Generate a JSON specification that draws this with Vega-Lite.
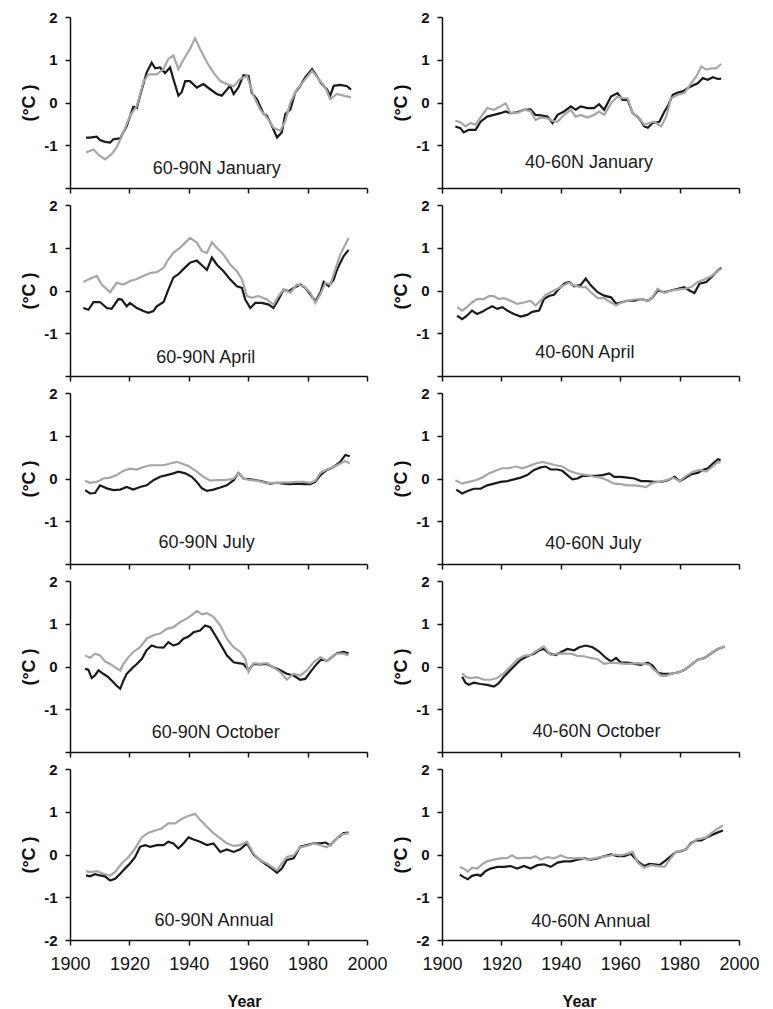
{
"$schema": "https://vega.github.io/schema/vega-lite/v6.json",
"background": "white",
"padding": {"left": 20, "top": 10, "right": 5, "bottom": 5},
"columns": 2,
"spacing": {"row": 17, "column": 75},
"bounds": "flush",
"config": {
  "view": {"stroke": null},
  "font": "Liberation Sans",
  "axis": {"grid": false, "domainColor": "#111", "domainWidth": 1.5, "tickColor": "#111", "tickWidth": 1.5, "tickSize": 5, "labelColor": "#111", "titleColor": "#111", "labelFont": "Liberation Sans", "titleFont": "Liberation Sans", "labelFlush": false, "labelOverlap": false},
  "axisX": {"labelFontSize": 18, "labelPadding": 10, "titleFontSize": 16, "titleFontWeight": "bold", "titlePadding": 20},
  "axisY": {"labelFontSize": 15, "labelFontWeight": "bold", "labelPadding": 8, "titleFontSize": 18, "titleFontWeight": "bold", "titlePadding": 5},
  "text": {"font": "Liberation Sans"},
  "line": {"strokeWidth": 2.2}
},
"datasets": {
"L1k": [{"year":1905.4,"anomaly":-0.82},{"year":1906.7,"anomaly":-0.82},{"year":1909.0,"anomaly":-0.80},{"year":1910.1,"anomaly":-0.88},{"year":1911.8,"anomaly":-0.92},{"year":1913.5,"anomaly":-0.94},{"year":1914.6,"anomaly":-0.86},{"year":1916.9,"anomaly":-0.84},{"year":1919.1,"anomaly":-0.55},{"year":1921.3,"anomaly":-0.10},{"year":1922.5,"anomaly":-0.12},{"year":1923.6,"anomaly":0.16},{"year":1925.8,"anomaly":0.70},{"year":1927.5,"anomaly":0.93},{"year":1928.7,"anomaly":0.80},{"year":1930.3,"anomaly":0.82},{"year":1932.0,"anomaly":0.69},{"year":1933.7,"anomaly":0.82},{"year":1934.8,"anomaly":0.55},{"year":1936.5,"anomaly":0.16},{"year":1937.6,"anomaly":0.24},{"year":1938.8,"anomaly":0.50},{"year":1940.4,"anomaly":0.50},{"year":1942.7,"anomaly":0.35},{"year":1944.9,"anomaly":0.43},{"year":1947.2,"anomaly":0.31},{"year":1949.4,"anomaly":0.20},{"year":1951.1,"anomaly":0.16},{"year":1953.9,"anomaly":0.39},{"year":1955.1,"anomaly":0.20},{"year":1956.7,"anomaly":0.35},{"year":1958.4,"anomaly":0.64},{"year":1960.1,"anomaly":0.62},{"year":1961.2,"anomaly":0.23},{"year":1962.9,"anomaly":0.08},{"year":1965.2,"anomaly":-0.27},{"year":1966.3,"anomaly":-0.31},{"year":1968.0,"anomaly":-0.55},{"year":1969.7,"anomaly":-0.82},{"year":1971.3,"anomaly":-0.70},{"year":1972.5,"anomaly":-0.27},{"year":1974.2,"anomaly":-0.16},{"year":1975.8,"anomaly":0.23},{"year":1977.5,"anomaly":0.39},{"year":1979.2,"anomaly":0.59},{"year":1981.5,"anomaly":0.78},{"year":1983.1,"anomaly":0.62},{"year":1984.8,"anomaly":0.43},{"year":1986.5,"anomaly":0.31},{"year":1987.6,"anomaly":0.16},{"year":1988.8,"anomaly":0.39},{"year":1991.0,"anomaly":0.41},{"year":1993.3,"anomaly":0.38},{"year":1994.6,"anomaly":0.30}],
"L1g": [{"year":1905.4,"anomaly":-1.17},{"year":1907.9,"anomaly":-1.10},{"year":1910.1,"anomaly":-1.25},{"year":1911.8,"anomaly":-1.33},{"year":1914.0,"anomaly":-1.21},{"year":1915.7,"anomaly":-1.05},{"year":1918.0,"anomaly":-0.70},{"year":1920.2,"anomaly":-0.31},{"year":1922.5,"anomaly":-0.08},{"year":1924.7,"anomaly":0.47},{"year":1926.4,"anomaly":0.66},{"year":1929.2,"anomaly":0.66},{"year":1931.5,"anomaly":0.78},{"year":1933.1,"anomaly":1.02},{"year":1934.8,"anomaly":1.10},{"year":1936.5,"anomaly":0.78},{"year":1938.2,"anomaly":1.00},{"year":1940.4,"anomaly":1.25},{"year":1942.1,"anomaly":1.50},{"year":1943.8,"anomaly":1.25},{"year":1946.1,"anomaly":0.94},{"year":1948.3,"anomaly":0.70},{"year":1950.6,"anomaly":0.50},{"year":1952.8,"anomaly":0.43},{"year":1955.1,"anomaly":0.38},{"year":1957.3,"anomaly":0.55},{"year":1959.6,"anomaly":0.62},{"year":1961.8,"anomaly":0.16},{"year":1964.0,"anomaly":-0.16},{"year":1966.3,"anomaly":-0.35},{"year":1968.5,"anomaly":-0.59},{"year":1970.8,"anomaly":-0.66},{"year":1972.5,"anomaly":-0.43},{"year":1974.2,"anomaly":0.00},{"year":1976.4,"anomaly":0.31},{"year":1978.7,"anomaly":0.50},{"year":1981.5,"anomaly":0.74},{"year":1983.7,"anomaly":0.55},{"year":1986.0,"anomaly":0.35},{"year":1987.6,"anomaly":0.08},{"year":1989.9,"anomaly":0.20},{"year":1992.1,"anomaly":0.16},{"year":1994.6,"anomaly":0.12}],
"L2k": [{"year":1904.5,"anomaly":-0.41},{"year":1906.2,"anomaly":-0.45},{"year":1907.9,"anomaly":-0.27},{"year":1910.1,"anomaly":-0.27},{"year":1912.4,"anomaly":-0.41},{"year":1914.0,"anomaly":-0.43},{"year":1916.3,"anomaly":-0.20},{"year":1917.4,"anomaly":-0.21},{"year":1919.1,"anomaly":-0.37},{"year":1920.2,"anomaly":-0.29},{"year":1922.5,"anomaly":-0.41},{"year":1924.7,"anomaly":-0.48},{"year":1926.4,"anomaly":-0.52},{"year":1928.1,"anomaly":-0.48},{"year":1929.2,"anomaly":-0.37},{"year":1931.5,"anomaly":-0.27},{"year":1933.1,"anomaly":0.02},{"year":1934.8,"anomaly":0.30},{"year":1936.5,"anomaly":0.38},{"year":1938.2,"anomaly":0.50},{"year":1940.4,"anomaly":0.65},{"year":1942.7,"anomaly":0.70},{"year":1944.4,"anomaly":0.59},{"year":1946.1,"anomaly":0.48},{"year":1947.8,"anomaly":0.77},{"year":1949.4,"anomaly":0.61},{"year":1951.7,"anomaly":0.45},{"year":1953.9,"anomaly":0.26},{"year":1956.2,"anomaly":0.10},{"year":1957.9,"anomaly":0.06},{"year":1959.0,"anomaly":-0.21},{"year":1960.7,"anomaly":-0.41},{"year":1962.4,"anomaly":-0.29},{"year":1964.6,"anomaly":-0.29},{"year":1966.9,"anomaly":-0.33},{"year":1968.5,"anomaly":-0.41},{"year":1970.2,"anomaly":-0.21},{"year":1971.9,"anomaly":0.02},{"year":1973.6,"anomaly":-0.02},{"year":1975.3,"anomaly":0.06},{"year":1977.5,"anomaly":0.14},{"year":1979.2,"anomaly":0.06},{"year":1980.9,"anomaly":-0.09},{"year":1982.6,"anomaly":-0.25},{"year":1984.3,"anomaly":-0.05},{"year":1985.4,"anomaly":0.20},{"year":1987.1,"anomaly":0.10},{"year":1988.8,"anomaly":0.26},{"year":1989.9,"anomaly":0.49},{"year":1992.1,"anomaly":0.80},{"year":1993.8,"anomaly":0.95}],
"L2g": [{"year":1904.5,"anomaly":0.20},{"year":1906.2,"anomaly":0.26},{"year":1909.0,"anomaly":0.34},{"year":1910.7,"anomaly":0.14},{"year":1913.5,"anomaly":-0.04},{"year":1915.7,"anomaly":0.18},{"year":1918.0,"anomaly":0.14},{"year":1920.2,"anomaly":0.22},{"year":1922.5,"anomaly":0.27},{"year":1924.7,"anomaly":0.34},{"year":1927.0,"anomaly":0.41},{"year":1929.2,"anomaly":0.43},{"year":1931.5,"anomaly":0.53},{"year":1933.1,"anomaly":0.73},{"year":1934.8,"anomaly":0.88},{"year":1937.1,"anomaly":1.00},{"year":1938.8,"anomaly":1.12},{"year":1940.4,"anomaly":1.23},{"year":1942.7,"anomaly":1.12},{"year":1944.4,"anomaly":0.92},{"year":1946.1,"anomaly":0.88},{"year":1947.8,"anomaly":1.13},{"year":1949.4,"anomaly":1.00},{"year":1951.7,"anomaly":0.84},{"year":1953.9,"anomaly":0.61},{"year":1956.2,"anomaly":0.45},{"year":1957.9,"anomaly":0.26},{"year":1959.6,"anomaly":-0.13},{"year":1961.2,"anomaly":-0.17},{"year":1963.5,"anomaly":-0.13},{"year":1966.3,"anomaly":-0.21},{"year":1968.5,"anomaly":-0.33},{"year":1970.2,"anomaly":-0.13},{"year":1971.9,"anomaly":0.02},{"year":1974.2,"anomaly":-0.05},{"year":1976.4,"anomaly":0.14},{"year":1978.7,"anomaly":0.10},{"year":1980.9,"anomaly":-0.05},{"year":1982.6,"anomaly":-0.29},{"year":1984.3,"anomaly":-0.09},{"year":1986.0,"anomaly":0.18},{"year":1987.6,"anomaly":0.14},{"year":1989.3,"anomaly":0.49},{"year":1991.0,"anomaly":0.84},{"year":1993.8,"anomaly":1.23}],
"L3k": [{"year":1905.1,"anomaly":-0.27},{"year":1906.7,"anomaly":-0.35},{"year":1908.4,"anomaly":-0.34},{"year":1910.1,"anomaly":-0.16},{"year":1912.4,"anomaly":-0.23},{"year":1914.6,"anomaly":-0.27},{"year":1916.9,"anomaly":-0.26},{"year":1919.1,"anomaly":-0.20},{"year":1921.3,"anomaly":-0.26},{"year":1923.6,"anomaly":-0.20},{"year":1925.8,"anomaly":-0.16},{"year":1928.1,"anomaly":-0.04},{"year":1930.3,"anomaly":0.04},{"year":1932.6,"anomaly":0.08},{"year":1934.8,"anomaly":0.12},{"year":1936.5,"anomaly":0.16},{"year":1938.8,"anomaly":0.12},{"year":1941.0,"anomaly":0.04},{"year":1942.7,"anomaly":-0.08},{"year":1944.4,"anomaly":-0.23},{"year":1946.1,"anomaly":-0.29},{"year":1948.3,"anomaly":-0.26},{"year":1950.6,"anomaly":-0.21},{"year":1952.8,"anomaly":-0.16},{"year":1955.1,"anomaly":-0.04},{"year":1956.7,"anomaly":0.13},{"year":1958.4,"anomaly":0.00},{"year":1960.7,"anomaly":-0.02},{"year":1962.9,"anomaly":-0.04},{"year":1965.2,"anomaly":-0.08},{"year":1967.4,"anomaly":-0.12},{"year":1969.7,"anomaly":-0.10},{"year":1971.9,"anomaly":-0.12},{"year":1974.2,"anomaly":-0.13},{"year":1976.4,"anomaly":-0.12},{"year":1978.7,"anomaly":-0.13},{"year":1980.9,"anomaly":-0.13},{"year":1982.6,"anomaly":-0.08},{"year":1984.3,"anomaly":0.08},{"year":1986.5,"anomaly":0.20},{"year":1988.8,"anomaly":0.27},{"year":1991.0,"anomaly":0.39},{"year":1992.7,"anomaly":0.55},{"year":1994.2,"anomaly":0.52}],
"L3g": [{"year":1905.1,"anomaly":-0.05},{"year":1906.7,"anomaly":-0.10},{"year":1909.0,"anomaly":-0.08},{"year":1911.2,"anomaly":0.00},{"year":1913.5,"anomaly":0.02},{"year":1915.7,"anomaly":0.08},{"year":1918.0,"anomaly":0.18},{"year":1920.2,"anomaly":0.23},{"year":1922.5,"anomaly":0.21},{"year":1924.7,"anomaly":0.27},{"year":1927.0,"anomaly":0.31},{"year":1929.2,"anomaly":0.31},{"year":1931.5,"anomaly":0.31},{"year":1933.7,"anomaly":0.35},{"year":1936.0,"anomaly":0.39},{"year":1937.6,"anomaly":0.35},{"year":1939.9,"anomaly":0.29},{"year":1942.7,"anomaly":0.16},{"year":1944.9,"anomaly":0.04},{"year":1947.2,"anomaly":-0.05},{"year":1949.4,"anomaly":-0.04},{"year":1951.7,"anomaly":-0.04},{"year":1953.9,"anomaly":-0.02},{"year":1955.1,"anomaly":0.00},{"year":1956.7,"anomaly":0.12},{"year":1958.4,"anomaly":0.00},{"year":1960.7,"anomaly":-0.04},{"year":1962.9,"anomaly":-0.05},{"year":1965.2,"anomaly":-0.09},{"year":1967.4,"anomaly":-0.10},{"year":1969.7,"anomaly":-0.10},{"year":1971.9,"anomaly":-0.09},{"year":1974.2,"anomaly":-0.09},{"year":1976.4,"anomaly":-0.08},{"year":1978.7,"anomaly":-0.08},{"year":1980.9,"anomaly":-0.10},{"year":1982.6,"anomaly":-0.05},{"year":1984.3,"anomaly":0.13},{"year":1986.5,"anomaly":0.21},{"year":1988.8,"anomaly":0.27},{"year":1991.0,"anomaly":0.35},{"year":1992.7,"anomaly":0.41},{"year":1994.2,"anomaly":0.35}],
"L4k": [{"year":1905.1,"anomaly":-0.05},{"year":1906.2,"anomaly":-0.08},{"year":1907.3,"anomaly":-0.27},{"year":1908.4,"anomaly":-0.21},{"year":1909.6,"anomaly":-0.09},{"year":1911.2,"anomaly":-0.17},{"year":1912.9,"anomaly":-0.25},{"year":1914.6,"anomaly":-0.37},{"year":1915.7,"anomaly":-0.45},{"year":1916.9,"anomaly":-0.52},{"year":1918.0,"anomaly":-0.33},{"year":1919.1,"anomaly":-0.17},{"year":1920.8,"anomaly":-0.05},{"year":1922.5,"anomaly":0.06},{"year":1924.2,"anomaly":0.18},{"year":1925.8,"anomaly":0.38},{"year":1927.5,"anomaly":0.49},{"year":1929.2,"anomaly":0.45},{"year":1931.5,"anomaly":0.44},{"year":1933.1,"anomaly":0.57},{"year":1934.8,"anomaly":0.49},{"year":1936.5,"anomaly":0.53},{"year":1938.2,"anomaly":0.65},{"year":1939.9,"anomaly":0.70},{"year":1941.6,"anomaly":0.80},{"year":1943.8,"anomaly":0.84},{"year":1945.5,"anomaly":0.96},{"year":1947.2,"anomaly":0.92},{"year":1948.9,"anomaly":0.73},{"year":1950.6,"anomaly":0.53},{"year":1952.8,"anomaly":0.26},{"year":1955.1,"anomaly":0.10},{"year":1956.7,"anomaly":0.08},{"year":1958.4,"anomaly":0.06},{"year":1960.1,"anomaly":-0.09},{"year":1961.8,"anomaly":0.06},{"year":1964.0,"anomaly":0.05},{"year":1966.3,"anomaly":0.06},{"year":1968.5,"anomaly":-0.02},{"year":1970.8,"anomaly":-0.09},{"year":1973.0,"anomaly":-0.17},{"year":1975.3,"anomaly":-0.21},{"year":1977.5,"anomaly":-0.31},{"year":1979.2,"anomaly":-0.29},{"year":1980.9,"anomaly":-0.13},{"year":1983.1,"anomaly":0.06},{"year":1984.8,"anomaly":0.18},{"year":1986.5,"anomaly":0.13},{"year":1988.2,"anomaly":0.22},{"year":1989.9,"anomaly":0.31},{"year":1992.1,"anomaly":0.34},{"year":1993.8,"anomaly":0.31}],
"L4g": [{"year":1905.1,"anomaly":0.26},{"year":1906.7,"anomaly":0.20},{"year":1908.4,"anomaly":0.30},{"year":1910.1,"anomaly":0.26},{"year":1911.8,"anomaly":0.12},{"year":1913.5,"anomaly":0.06},{"year":1915.2,"anomaly":-0.02},{"year":1916.9,"anomaly":-0.09},{"year":1918.0,"anomaly":0.06},{"year":1919.7,"anomaly":0.22},{"year":1921.3,"anomaly":0.34},{"year":1923.6,"anomaly":0.45},{"year":1925.8,"anomaly":0.65},{"year":1928.1,"anomaly":0.73},{"year":1930.3,"anomaly":0.77},{"year":1932.6,"anomaly":0.88},{"year":1934.8,"anomaly":0.92},{"year":1937.1,"anomaly":1.04},{"year":1939.3,"anomaly":1.12},{"year":1941.0,"anomaly":1.20},{"year":1942.7,"anomaly":1.30},{"year":1944.4,"anomaly":1.22},{"year":1946.1,"anomaly":1.25},{"year":1948.3,"anomaly":1.16},{"year":1950.6,"anomaly":0.96},{"year":1952.8,"anomaly":0.65},{"year":1955.1,"anomaly":0.45},{"year":1957.3,"anomaly":0.34},{"year":1959.0,"anomaly":0.18},{"year":1960.1,"anomaly":-0.13},{"year":1961.8,"anomaly":0.08},{"year":1964.0,"anomaly":0.06},{"year":1966.3,"anomaly":0.08},{"year":1968.5,"anomaly":-0.02},{"year":1970.8,"anomaly":-0.13},{"year":1973.0,"anomaly":-0.31},{"year":1975.3,"anomaly":-0.17},{"year":1977.5,"anomaly":-0.21},{"year":1979.8,"anomaly":-0.09},{"year":1982.0,"anomaly":0.10},{"year":1984.3,"anomaly":0.22},{"year":1986.5,"anomaly":0.13},{"year":1988.2,"anomaly":0.22},{"year":1989.9,"anomaly":0.30},{"year":1992.1,"anomaly":0.30},{"year":1993.8,"anomaly":0.26}],
"L5k": [{"year":1905.4,"anomaly":-0.49},{"year":1906.7,"anomaly":-0.51},{"year":1908.4,"anomaly":-0.46},{"year":1910.1,"anomaly":-0.49},{"year":1911.8,"anomaly":-0.51},{"year":1913.5,"anomaly":-0.61},{"year":1915.2,"anomaly":-0.57},{"year":1916.9,"anomaly":-0.45},{"year":1918.5,"anomaly":-0.33},{"year":1920.2,"anomaly":-0.21},{"year":1921.9,"anomaly":-0.06},{"year":1923.6,"anomaly":0.18},{"year":1925.3,"anomaly":0.22},{"year":1927.0,"anomaly":0.18},{"year":1929.2,"anomaly":0.22},{"year":1931.5,"anomaly":0.22},{"year":1933.1,"anomaly":0.30},{"year":1934.8,"anomaly":0.26},{"year":1936.5,"anomaly":0.14},{"year":1938.2,"anomaly":0.26},{"year":1939.9,"anomaly":0.40},{"year":1941.6,"anomaly":0.35},{"year":1943.8,"anomaly":0.30},{"year":1946.1,"anomaly":0.22},{"year":1948.3,"anomaly":0.26},{"year":1950.6,"anomaly":0.06},{"year":1952.8,"anomaly":0.12},{"year":1955.1,"anomaly":0.06},{"year":1957.3,"anomaly":0.12},{"year":1959.6,"anomaly":0.26},{"year":1961.8,"anomaly":0.00},{"year":1964.0,"anomaly":-0.13},{"year":1966.3,"anomaly":-0.25},{"year":1968.0,"anomaly":-0.33},{"year":1969.7,"anomaly":-0.43},{"year":1971.3,"anomaly":-0.33},{"year":1973.0,"anomaly":-0.13},{"year":1975.3,"anomaly":-0.09},{"year":1977.5,"anomaly":0.18},{"year":1979.8,"anomaly":0.22},{"year":1982.0,"anomaly":0.26},{"year":1984.3,"anomaly":0.26},{"year":1986.0,"anomaly":0.28},{"year":1987.6,"anomaly":0.22},{"year":1989.9,"anomaly":0.38},{"year":1992.1,"anomaly":0.50},{"year":1993.8,"anomaly":0.51}],
"L5g": [{"year":1905.4,"anomaly":-0.39},{"year":1906.7,"anomaly":-0.41},{"year":1909.0,"anomaly":-0.39},{"year":1911.2,"anomaly":-0.45},{"year":1913.5,"anomaly":-0.49},{"year":1915.2,"anomaly":-0.41},{"year":1917.4,"anomaly":-0.21},{"year":1919.7,"anomaly":-0.06},{"year":1921.9,"anomaly":0.14},{"year":1924.2,"anomaly":0.40},{"year":1926.4,"anomaly":0.51},{"year":1928.7,"anomaly":0.56},{"year":1930.9,"anomaly":0.61},{"year":1933.1,"anomaly":0.73},{"year":1935.4,"anomaly":0.73},{"year":1937.1,"anomaly":0.81},{"year":1939.3,"anomaly":0.89},{"year":1942.1,"anomaly":0.95},{"year":1943.8,"anomaly":0.81},{"year":1946.1,"anomaly":0.65},{"year":1948.3,"anomaly":0.50},{"year":1950.6,"anomaly":0.38},{"year":1952.8,"anomaly":0.26},{"year":1955.1,"anomaly":0.20},{"year":1957.3,"anomaly":0.22},{"year":1959.6,"anomaly":0.30},{"year":1961.8,"anomaly":0.02},{"year":1964.0,"anomaly":-0.13},{"year":1966.3,"anomaly":-0.21},{"year":1968.0,"anomaly":-0.29},{"year":1969.7,"anomaly":-0.37},{"year":1971.3,"anomaly":-0.21},{"year":1973.0,"anomaly":-0.06},{"year":1975.3,"anomaly":-0.02},{"year":1977.5,"anomaly":0.17},{"year":1979.8,"anomaly":0.20},{"year":1982.0,"anomaly":0.26},{"year":1984.3,"anomaly":0.22},{"year":1986.5,"anomaly":0.17},{"year":1988.8,"anomaly":0.30},{"year":1991.0,"anomaly":0.46},{"year":1993.8,"anomaly":0.50}],
"R1k": [{"year":1904.5,"anomaly":-0.56},{"year":1906.2,"anomaly":-0.60},{"year":1907.3,"anomaly":-0.70},{"year":1909.0,"anomaly":-0.64},{"year":1911.3,"anomaly":-0.64},{"year":1913.0,"anomaly":-0.45},{"year":1915.2,"anomaly":-0.33},{"year":1917.5,"anomaly":-0.29},{"year":1919.7,"anomaly":-0.25},{"year":1921.4,"anomaly":-0.21},{"year":1923.1,"anomaly":-0.25},{"year":1925.3,"anomaly":-0.23},{"year":1927.6,"anomaly":-0.17},{"year":1929.8,"anomaly":-0.16},{"year":1931.5,"anomaly":-0.29},{"year":1933.2,"anomaly":-0.30},{"year":1935.5,"anomaly":-0.33},{"year":1937.2,"anomaly":-0.48},{"year":1938.9,"anomaly":-0.29},{"year":1941.1,"anomaly":-0.21},{"year":1943.4,"anomaly":-0.09},{"year":1945.0,"anomaly":-0.17},{"year":1946.7,"anomaly":-0.09},{"year":1949.0,"anomaly":-0.13},{"year":1951.2,"anomaly":-0.13},{"year":1952.9,"anomaly":-0.04},{"year":1954.6,"anomaly":-0.17},{"year":1956.9,"anomaly":0.14},{"year":1959.1,"anomaly":0.22},{"year":1960.8,"anomaly":0.06},{"year":1962.5,"anomaly":0.06},{"year":1964.2,"anomaly":-0.25},{"year":1966.4,"anomaly":-0.37},{"year":1968.1,"anomaly":-0.56},{"year":1969.3,"anomaly":-0.59},{"year":1970.9,"anomaly":-0.48},{"year":1973.2,"anomaly":-0.45},{"year":1974.9,"anomaly":-0.21},{"year":1976.0,"anomaly":-0.09},{"year":1977.7,"anomaly":0.18},{"year":1979.4,"anomaly":0.23},{"year":1981.1,"anomaly":0.26},{"year":1982.8,"anomaly":0.34},{"year":1984.5,"anomaly":0.40},{"year":1986.1,"anomaly":0.45},{"year":1987.8,"anomaly":0.57},{"year":1989.5,"anomaly":0.53},{"year":1991.2,"anomaly":0.59},{"year":1992.9,"anomaly":0.55},{"year":1994.0,"anomaly":0.56}],
"R1g": [{"year":1904.5,"anomaly":-0.43},{"year":1906.2,"anomaly":-0.46},{"year":1907.9,"anomaly":-0.56},{"year":1909.6,"anomaly":-0.48},{"year":1911.3,"anomaly":-0.52},{"year":1913.0,"anomaly":-0.35},{"year":1915.2,"anomaly":-0.13},{"year":1917.5,"anomaly":-0.17},{"year":1919.7,"anomaly":-0.09},{"year":1921.4,"anomaly":-0.02},{"year":1923.1,"anomaly":-0.25},{"year":1925.3,"anomaly":-0.25},{"year":1927.6,"anomaly":-0.17},{"year":1929.8,"anomaly":-0.20},{"year":1931.5,"anomaly":-0.41},{"year":1933.2,"anomaly":-0.35},{"year":1935.5,"anomaly":-0.37},{"year":1937.2,"anomaly":-0.43},{"year":1938.9,"anomaly":-0.45},{"year":1941.1,"anomaly":-0.29},{"year":1943.4,"anomaly":-0.17},{"year":1945.0,"anomaly":-0.33},{"year":1946.7,"anomaly":-0.29},{"year":1949.0,"anomaly":-0.35},{"year":1951.2,"anomaly":-0.29},{"year":1952.9,"anomaly":-0.21},{"year":1954.6,"anomaly":-0.29},{"year":1956.9,"anomaly":-0.02},{"year":1959.1,"anomaly":0.14},{"year":1960.8,"anomaly":0.10},{"year":1962.5,"anomaly":0.10},{"year":1964.2,"anomaly":-0.25},{"year":1966.4,"anomaly":-0.37},{"year":1968.1,"anomaly":-0.52},{"year":1969.8,"anomaly":-0.48},{"year":1971.5,"anomaly":-0.45},{"year":1973.8,"anomaly":-0.56},{"year":1975.5,"anomaly":-0.33},{"year":1977.1,"anomaly":0.10},{"year":1979.4,"anomaly":0.18},{"year":1981.6,"anomaly":0.22},{"year":1983.9,"anomaly":0.45},{"year":1985.6,"anomaly":0.61},{"year":1987.3,"anomaly":0.84},{"year":1989.0,"anomaly":0.77},{"year":1990.7,"anomaly":0.80},{"year":1992.3,"anomaly":0.80},{"year":1994.0,"anomaly":0.90}],
"R2k": [{"year":1905.1,"anomaly":-0.59},{"year":1906.8,"anomaly":-0.67},{"year":1908.4,"anomaly":-0.59},{"year":1910.1,"anomaly":-0.47},{"year":1911.8,"anomaly":-0.55},{"year":1913.5,"anomaly":-0.50},{"year":1915.2,"anomaly":-0.43},{"year":1916.9,"anomaly":-0.37},{"year":1918.6,"anomaly":-0.43},{"year":1920.3,"anomaly":-0.39},{"year":1922.0,"anomaly":-0.47},{"year":1924.2,"anomaly":-0.55},{"year":1926.5,"anomaly":-0.61},{"year":1928.7,"anomaly":-0.57},{"year":1930.4,"anomaly":-0.50},{"year":1932.7,"anomaly":-0.47},{"year":1934.3,"anomaly":-0.20},{"year":1936.0,"anomaly":-0.13},{"year":1937.7,"anomaly":-0.10},{"year":1939.4,"anomaly":0.04},{"year":1941.1,"anomaly":0.16},{"year":1942.8,"anomaly":0.20},{"year":1944.5,"anomaly":0.10},{"year":1946.7,"anomaly":0.13},{"year":1948.4,"anomaly":0.28},{"year":1950.1,"anomaly":0.12},{"year":1952.4,"anomaly":-0.04},{"year":1954.6,"anomaly":-0.12},{"year":1956.9,"anomaly":-0.16},{"year":1958.6,"anomaly":-0.31},{"year":1960.2,"anomaly":-0.28},{"year":1962.5,"anomaly":-0.24},{"year":1964.8,"anomaly":-0.24},{"year":1967.0,"anomaly":-0.20},{"year":1969.3,"anomaly":-0.24},{"year":1970.9,"anomaly":-0.16},{"year":1972.6,"anomaly":0.00},{"year":1974.9,"anomaly":-0.04},{"year":1977.1,"anomaly":0.00},{"year":1979.4,"anomaly":0.04},{"year":1981.6,"anomaly":0.08},{"year":1983.3,"anomaly":0.00},{"year":1985.0,"anomaly":-0.06},{"year":1986.7,"anomaly":0.16},{"year":1989.0,"anomaly":0.20},{"year":1990.7,"anomaly":0.31},{"year":1992.3,"anomaly":0.43},{"year":1994.0,"anomaly":0.53}],
"R2g": [{"year":1905.1,"anomaly":-0.39},{"year":1906.8,"anomaly":-0.47},{"year":1908.4,"anomaly":-0.39},{"year":1910.1,"anomaly":-0.28},{"year":1911.8,"anomaly":-0.20},{"year":1914.1,"anomaly":-0.20},{"year":1915.8,"anomaly":-0.13},{"year":1917.5,"anomaly":-0.13},{"year":1919.1,"anomaly":-0.20},{"year":1920.8,"anomaly":-0.18},{"year":1923.1,"anomaly":-0.24},{"year":1925.3,"anomaly":-0.31},{"year":1927.6,"anomaly":-0.28},{"year":1929.8,"anomaly":-0.24},{"year":1931.5,"anomaly":-0.35},{"year":1933.2,"anomaly":-0.24},{"year":1934.9,"anomaly":-0.10},{"year":1936.6,"anomaly":-0.04},{"year":1938.9,"anomaly":0.04},{"year":1941.1,"anomaly":0.13},{"year":1942.8,"anomaly":0.18},{"year":1944.5,"anomaly":0.12},{"year":1946.7,"anomaly":0.08},{"year":1948.4,"anomaly":0.08},{"year":1950.1,"anomaly":-0.04},{"year":1952.4,"anomaly":-0.18},{"year":1954.6,"anomaly":-0.18},{"year":1956.9,"anomaly":-0.28},{"year":1958.6,"anomaly":-0.35},{"year":1960.2,"anomaly":-0.29},{"year":1962.5,"anomaly":-0.24},{"year":1964.8,"anomaly":-0.21},{"year":1967.0,"anomaly":-0.20},{"year":1969.3,"anomaly":-0.24},{"year":1970.9,"anomaly":-0.16},{"year":1972.6,"anomaly":0.04},{"year":1974.9,"anomaly":-0.06},{"year":1977.1,"anomaly":0.00},{"year":1979.4,"anomaly":0.02},{"year":1981.6,"anomaly":0.04},{"year":1983.9,"anomaly":0.08},{"year":1986.1,"anomaly":0.20},{"year":1988.4,"anomaly":0.26},{"year":1990.7,"anomaly":0.34},{"year":1992.3,"anomaly":0.43},{"year":1994.0,"anomaly":0.51}],
"R3k": [{"year":1904.8,"anomaly":-0.26},{"year":1906.8,"anomaly":-0.35},{"year":1908.4,"anomaly":-0.30},{"year":1910.7,"anomaly":-0.24},{"year":1913.0,"anomaly":-0.24},{"year":1915.2,"anomaly":-0.16},{"year":1917.5,"anomaly":-0.12},{"year":1919.7,"anomaly":-0.08},{"year":1922.0,"anomaly":-0.06},{"year":1924.2,"anomaly":-0.02},{"year":1926.5,"anomaly":0.02},{"year":1928.7,"anomaly":0.08},{"year":1931.0,"anomaly":0.20},{"year":1933.2,"anomaly":0.26},{"year":1934.9,"anomaly":0.28},{"year":1936.6,"anomaly":0.21},{"year":1938.9,"anomaly":0.21},{"year":1940.5,"anomaly":0.18},{"year":1942.2,"anomaly":0.08},{"year":1943.9,"anomaly":-0.02},{"year":1945.6,"anomaly":0.00},{"year":1947.3,"anomaly":0.06},{"year":1949.5,"anomaly":0.06},{"year":1951.8,"anomaly":0.06},{"year":1954.1,"anomaly":0.08},{"year":1956.3,"anomaly":0.12},{"year":1958.0,"anomaly":0.04},{"year":1960.2,"anomaly":0.04},{"year":1962.5,"anomaly":0.02},{"year":1964.8,"anomaly":0.00},{"year":1967.0,"anomaly":-0.06},{"year":1969.3,"anomaly":-0.06},{"year":1971.5,"anomaly":-0.08},{"year":1973.8,"anomaly":-0.08},{"year":1976.0,"anomaly":-0.04},{"year":1978.3,"anomaly":0.04},{"year":1980.0,"anomaly":-0.06},{"year":1981.6,"anomaly":0.00},{"year":1983.9,"anomaly":0.10},{"year":1986.1,"anomaly":0.13},{"year":1987.8,"anomaly":0.20},{"year":1989.5,"anomaly":0.24},{"year":1991.2,"anomaly":0.35},{"year":1992.9,"anomaly":0.45},{"year":1993.8,"anomaly":0.43}],
"R3g": [{"year":1904.5,"anomaly":-0.04},{"year":1906.8,"anomaly":-0.12},{"year":1909.0,"anomaly":-0.08},{"year":1911.3,"anomaly":-0.04},{"year":1913.5,"anomaly":0.02},{"year":1915.8,"anomaly":0.12},{"year":1918.0,"anomaly":0.18},{"year":1920.3,"anomaly":0.24},{"year":1922.5,"anomaly":0.24},{"year":1924.8,"anomaly":0.28},{"year":1927.0,"anomaly":0.24},{"year":1929.3,"anomaly":0.29},{"year":1931.5,"anomaly":0.35},{"year":1933.8,"anomaly":0.39},{"year":1936.0,"anomaly":0.35},{"year":1938.3,"anomaly":0.31},{"year":1940.5,"anomaly":0.28},{"year":1942.8,"anomaly":0.18},{"year":1945.0,"anomaly":0.13},{"year":1946.7,"anomaly":0.10},{"year":1949.0,"anomaly":0.08},{"year":1951.2,"anomaly":0.04},{"year":1953.5,"anomaly":0.02},{"year":1955.7,"anomaly":-0.04},{"year":1958.0,"anomaly":-0.12},{"year":1960.2,"anomaly":-0.13},{"year":1962.5,"anomaly":-0.16},{"year":1964.8,"anomaly":-0.16},{"year":1967.0,"anomaly":-0.18},{"year":1968.7,"anomaly":-0.20},{"year":1970.9,"anomaly":-0.10},{"year":1973.2,"anomaly":-0.08},{"year":1975.5,"anomaly":-0.04},{"year":1977.7,"anomaly":0.02},{"year":1980.0,"anomaly":-0.06},{"year":1982.2,"anomaly":0.06},{"year":1984.5,"anomaly":0.16},{"year":1986.7,"anomaly":0.20},{"year":1989.0,"anomaly":0.16},{"year":1991.2,"anomaly":0.28},{"year":1992.9,"anomaly":0.39},{"year":1993.8,"anomaly":0.37}],
"R4k": [{"year":1906.8,"anomaly":-0.24},{"year":1907.9,"anomaly":-0.38},{"year":1909.0,"anomaly":-0.43},{"year":1910.7,"anomaly":-0.38},{"year":1913.0,"anomaly":-0.41},{"year":1915.2,"anomaly":-0.43},{"year":1917.5,"anomaly":-0.47},{"year":1919.1,"anomaly":-0.39},{"year":1920.8,"anomaly":-0.24},{"year":1922.5,"anomaly":-0.12},{"year":1924.2,"anomaly":0.00},{"year":1926.5,"anomaly":0.16},{"year":1928.7,"anomaly":0.24},{"year":1931.0,"anomaly":0.30},{"year":1932.7,"anomaly":0.38},{"year":1934.3,"anomaly":0.41},{"year":1936.0,"anomaly":0.31},{"year":1938.3,"anomaly":0.27},{"year":1940.5,"anomaly":0.35},{"year":1942.2,"anomaly":0.41},{"year":1944.5,"anomaly":0.38},{"year":1946.2,"anomaly":0.45},{"year":1948.4,"anomaly":0.49},{"year":1950.7,"anomaly":0.45},{"year":1952.9,"anomaly":0.35},{"year":1955.2,"anomaly":0.20},{"year":1956.9,"anomaly":0.12},{"year":1958.6,"anomaly":0.20},{"year":1960.2,"anomaly":0.09},{"year":1962.5,"anomaly":0.09},{"year":1964.8,"anomaly":0.06},{"year":1967.0,"anomaly":0.04},{"year":1969.3,"anomaly":0.09},{"year":1970.9,"anomaly":0.02},{"year":1972.6,"anomaly":-0.14},{"year":1974.3,"anomaly":-0.17},{"year":1977.1,"anomaly":-0.17},{"year":1979.4,"anomaly":-0.14},{"year":1981.6,"anomaly":-0.08},{"year":1983.9,"anomaly":0.04},{"year":1986.1,"anomaly":0.16},{"year":1988.4,"anomaly":0.20},{"year":1990.7,"anomaly":0.31},{"year":1992.9,"anomaly":0.41},{"year":1995.2,"anomaly":0.47}],
"R4g": [{"year":1906.8,"anomaly":-0.16},{"year":1907.9,"anomaly":-0.24},{"year":1909.6,"anomaly":-0.27},{"year":1911.8,"anomaly":-0.25},{"year":1914.1,"anomaly":-0.31},{"year":1916.3,"anomaly":-0.31},{"year":1918.6,"anomaly":-0.27},{"year":1920.8,"anomaly":-0.16},{"year":1923.1,"anomaly":0.00},{"year":1925.3,"anomaly":0.16},{"year":1927.6,"anomaly":0.25},{"year":1929.8,"anomaly":0.27},{"year":1932.1,"anomaly":0.38},{"year":1934.3,"anomaly":0.47},{"year":1936.6,"anomaly":0.27},{"year":1938.9,"anomaly":0.30},{"year":1941.1,"anomaly":0.30},{"year":1943.4,"anomaly":0.30},{"year":1945.6,"anomaly":0.25},{"year":1947.9,"anomaly":0.24},{"year":1950.1,"anomaly":0.20},{"year":1952.4,"anomaly":0.17},{"year":1954.6,"anomaly":0.06},{"year":1956.9,"anomaly":0.09},{"year":1959.1,"anomaly":0.08},{"year":1961.4,"anomaly":0.06},{"year":1963.6,"anomaly":0.06},{"year":1965.9,"anomaly":0.08},{"year":1968.1,"anomaly":0.06},{"year":1969.8,"anomaly":0.04},{"year":1971.5,"anomaly":-0.08},{"year":1973.8,"anomaly":-0.22},{"year":1975.5,"anomaly":-0.22},{"year":1977.1,"anomaly":-0.17},{"year":1979.4,"anomaly":-0.14},{"year":1981.6,"anomaly":-0.08},{"year":1983.9,"anomaly":0.04},{"year":1986.1,"anomaly":0.16},{"year":1988.4,"anomaly":0.20},{"year":1990.7,"anomaly":0.31},{"year":1992.9,"anomaly":0.41},{"year":1995.2,"anomaly":0.47}],
"R5k": [{"year":1906.0,"anomaly":-0.47},{"year":1907.3,"anomaly":-0.53},{"year":1908.7,"anomaly":-0.58},{"year":1910.1,"anomaly":-0.50},{"year":1911.8,"anomaly":-0.47},{"year":1913.0,"anomaly":-0.50},{"year":1914.6,"anomaly":-0.39},{"year":1916.3,"anomaly":-0.33},{"year":1918.6,"anomaly":-0.29},{"year":1920.8,"anomaly":-0.29},{"year":1923.1,"anomaly":-0.27},{"year":1925.3,"anomaly":-0.33},{"year":1927.6,"anomaly":-0.27},{"year":1929.8,"anomaly":-0.33},{"year":1932.1,"anomaly":-0.25},{"year":1934.3,"anomaly":-0.23},{"year":1936.6,"anomaly":-0.29},{"year":1938.9,"anomaly":-0.19},{"year":1941.1,"anomaly":-0.16},{"year":1943.4,"anomaly":-0.16},{"year":1945.6,"anomaly":-0.12},{"year":1947.9,"anomaly":-0.09},{"year":1950.1,"anomaly":-0.12},{"year":1952.4,"anomaly":-0.09},{"year":1954.6,"anomaly":-0.04},{"year":1956.9,"anomaly":0.00},{"year":1959.1,"anomaly":-0.04},{"year":1961.4,"anomaly":-0.04},{"year":1963.6,"anomaly":0.02},{"year":1965.9,"anomaly":-0.16},{"year":1968.1,"anomaly":-0.27},{"year":1969.8,"anomaly":-0.22},{"year":1971.5,"anomaly":-0.23},{"year":1973.2,"anomaly":-0.25},{"year":1974.9,"anomaly":-0.16},{"year":1977.1,"anomaly":-0.04},{"year":1978.8,"anomaly":0.06},{"year":1980.5,"anomaly":0.08},{"year":1982.2,"anomaly":0.12},{"year":1983.9,"anomaly":0.27},{"year":1985.6,"anomaly":0.33},{"year":1987.3,"anomaly":0.33},{"year":1989.0,"anomaly":0.39},{"year":1990.7,"anomaly":0.45},{"year":1992.3,"anomaly":0.50},{"year":1994.6,"anomaly":0.56}],
"R5g": [{"year":1906.0,"anomaly":-0.29},{"year":1907.3,"anomaly":-0.33},{"year":1908.7,"anomaly":-0.40},{"year":1910.1,"anomaly":-0.31},{"year":1911.8,"anomaly":-0.33},{"year":1913.5,"anomaly":-0.23},{"year":1915.2,"anomaly":-0.16},{"year":1917.5,"anomaly":-0.12},{"year":1919.7,"anomaly":-0.09},{"year":1922.0,"anomaly":-0.08},{"year":1923.6,"anomaly":-0.02},{"year":1925.3,"anomaly":-0.09},{"year":1927.6,"anomaly":-0.08},{"year":1929.8,"anomaly":-0.08},{"year":1931.5,"anomaly":-0.04},{"year":1933.2,"anomaly":-0.12},{"year":1935.5,"anomaly":-0.06},{"year":1937.7,"anomaly":-0.09},{"year":1940.0,"anomaly":-0.02},{"year":1942.2,"anomaly":-0.08},{"year":1944.5,"anomaly":-0.09},{"year":1946.7,"anomaly":-0.08},{"year":1949.0,"anomaly":-0.12},{"year":1951.2,"anomaly":-0.09},{"year":1953.5,"anomaly":-0.06},{"year":1955.7,"anomaly":-0.04},{"year":1958.0,"anomaly":0.00},{"year":1960.2,"anomaly":-0.02},{"year":1962.5,"anomaly":0.02},{"year":1964.2,"anomaly":0.06},{"year":1965.9,"anomaly":-0.19},{"year":1968.1,"anomaly":-0.31},{"year":1970.4,"anomaly":-0.25},{"year":1972.6,"anomaly":-0.27},{"year":1974.9,"anomaly":-0.29},{"year":1977.1,"anomaly":-0.08},{"year":1978.8,"anomaly":0.06},{"year":1980.5,"anomaly":0.09},{"year":1982.2,"anomaly":0.12},{"year":1983.9,"anomaly":0.25},{"year":1985.6,"anomaly":0.35},{"year":1987.3,"anomaly":0.37},{"year":1989.0,"anomaly":0.40},{"year":1990.7,"anomaly":0.50},{"year":1992.3,"anomaly":0.58},{"year":1994.6,"anomaly":0.68}]
},
"concat": [
{"width": 297, "height": 171, "layer": [
  {"data": {"name": "L1k"}, "mark": {"type": "line", "color": "#1a1a1a"}, "encoding": {
    "x": {"field": "year", "type": "quantitative", "scale": {"domain": [1900, 2000], "nice": false, "zero": false}, "axis": {"values": [1900,1910,1920,1930,1940,1950,1960,1970,1980,1990,2000], "labels": false, "title": null}},
    "y": {"field": "anomaly", "type": "quantitative", "scale": {"domain": [-2, 2], "nice": false}, "axis": {"title": "(°C )", "values": [-2,-1.5,-1,-0.5,0,0.5,1,1.5,2], "labelExpr": "datum.value % 1 == 0 && datum.value > -2 ? toString(datum.value) : ''"}}}},
  {"data": {"name": "L1g"}, "mark": {"type": "line", "color": "#a6a6a6"}, "encoding": {"x": {"field": "year", "type": "quantitative"}, "y": {"field": "anomaly", "type": "quantitative"}}},
  {"data": {"values": [{"label": "60-90N January"}]}, "mark": {"type": "text", "fontSize": 18, "color": "#1a1a1a"}, "encoding": {"x": {"datum": 1949.4, "type": "quantitative"}, "y": {"datum": -1.56, "type": "quantitative"}, "text": {"field": "label"}}}
]},
{"width": 297, "height": 171, "layer": [
  {"data": {"name": "R1k"}, "mark": {"type": "line", "color": "#1a1a1a"}, "encoding": {
    "x": {"field": "year", "type": "quantitative", "scale": {"domain": [1900, 2000], "nice": false, "zero": false}, "axis": {"values": [1900,1910,1920,1930,1940,1950,1960,1970,1980,1990,2000], "labels": false, "title": null}},
    "y": {"field": "anomaly", "type": "quantitative", "scale": {"domain": [-2, 2], "nice": false}, "axis": {"title": "(°C )", "values": [-2,-1.5,-1,-0.5,0,0.5,1,1.5,2], "labelExpr": "datum.value % 1 == 0 && datum.value > -2 ? toString(datum.value) : ''"}}}},
  {"data": {"name": "R1g"}, "mark": {"type": "line", "color": "#a6a6a6"}, "encoding": {"x": {"field": "year", "type": "quantitative"}, "y": {"field": "anomaly", "type": "quantitative"}}},
  {"data": {"values": [{"label": "40-60N January"}]}, "mark": {"type": "text", "fontSize": 18, "color": "#1a1a1a"}, "encoding": {"x": {"datum": 1949.5, "type": "quantitative"}, "y": {"datum": -1.42, "type": "quantitative"}, "text": {"field": "label"}}}
]},
{"width": 297, "height": 171, "layer": [
  {"data": {"name": "L2k"}, "mark": {"type": "line", "color": "#1a1a1a"}, "encoding": {
    "x": {"field": "year", "type": "quantitative", "scale": {"domain": [1900, 2000], "nice": false, "zero": false}, "axis": {"values": [1900,1910,1920,1930,1940,1950,1960,1970,1980,1990,2000], "labels": false, "title": null}},
    "y": {"field": "anomaly", "type": "quantitative", "scale": {"domain": [-2, 2], "nice": false}, "axis": {"title": "(°C )", "values": [-2,-1.5,-1,-0.5,0,0.5,1,1.5,2], "labelExpr": "datum.value % 1 == 0 && datum.value > -2 ? toString(datum.value) : ''"}}}},
  {"data": {"name": "L2g"}, "mark": {"type": "line", "color": "#a6a6a6"}, "encoding": {"x": {"field": "year", "type": "quantitative"}, "y": {"field": "anomaly", "type": "quantitative"}}},
  {"data": {"values": [{"label": "60-90N April"}]}, "mark": {"type": "text", "fontSize": 18, "color": "#1a1a1a"}, "encoding": {"x": {"datum": 1945.7, "type": "quantitative"}, "y": {"datum": -1.58, "type": "quantitative"}, "text": {"field": "label"}}}
]},
{"width": 297, "height": 171, "layer": [
  {"data": {"name": "R2k"}, "mark": {"type": "line", "color": "#1a1a1a"}, "encoding": {
    "x": {"field": "year", "type": "quantitative", "scale": {"domain": [1900, 2000], "nice": false, "zero": false}, "axis": {"values": [1900,1910,1920,1930,1940,1950,1960,1970,1980,1990,2000], "labels": false, "title": null}},
    "y": {"field": "anomaly", "type": "quantitative", "scale": {"domain": [-2, 2], "nice": false}, "axis": {"title": "(°C )", "values": [-2,-1.5,-1,-0.5,0,0.5,1,1.5,2], "labelExpr": "datum.value % 1 == 0 && datum.value > -2 ? toString(datum.value) : ''"}}}},
  {"data": {"name": "R2g"}, "mark": {"type": "line", "color": "#a6a6a6"}, "encoding": {"x": {"field": "year", "type": "quantitative"}, "y": {"field": "anomaly", "type": "quantitative"}}},
  {"data": {"values": [{"label": "40-60N April"}]}, "mark": {"type": "text", "fontSize": 18, "color": "#1a1a1a"}, "encoding": {"x": {"datum": 1948.1, "type": "quantitative"}, "y": {"datum": -1.46, "type": "quantitative"}, "text": {"field": "label"}}}
]},
{"width": 297, "height": 171, "layer": [
  {"data": {"name": "L3k"}, "mark": {"type": "line", "color": "#1a1a1a"}, "encoding": {
    "x": {"field": "year", "type": "quantitative", "scale": {"domain": [1900, 2000], "nice": false, "zero": false}, "axis": {"values": [1900,1910,1920,1930,1940,1950,1960,1970,1980,1990,2000], "labels": false, "title": null}},
    "y": {"field": "anomaly", "type": "quantitative", "scale": {"domain": [-2, 2], "nice": false}, "axis": {"title": "(°C )", "values": [-2,-1.5,-1,-0.5,0,0.5,1,1.5,2], "labelExpr": "datum.value % 1 == 0 && datum.value > -2 ? toString(datum.value) : ''"}}}},
  {"data": {"name": "L3g"}, "mark": {"type": "line", "color": "#a6a6a6"}, "encoding": {"x": {"field": "year", "type": "quantitative"}, "y": {"field": "anomaly", "type": "quantitative"}}},
  {"data": {"values": [{"label": "60-90N July"}]}, "mark": {"type": "text", "fontSize": 18, "color": "#1a1a1a"}, "encoding": {"x": {"datum": 1946, "type": "quantitative"}, "y": {"datum": -1.52, "type": "quantitative"}, "text": {"field": "label"}}}
]},
{"width": 297, "height": 171, "layer": [
  {"data": {"name": "R3k"}, "mark": {"type": "line", "color": "#1a1a1a"}, "encoding": {
    "x": {"field": "year", "type": "quantitative", "scale": {"domain": [1900, 2000], "nice": false, "zero": false}, "axis": {"values": [1900,1910,1920,1930,1940,1950,1960,1970,1980,1990,2000], "labels": false, "title": null}},
    "y": {"field": "anomaly", "type": "quantitative", "scale": {"domain": [-2, 2], "nice": false}, "axis": {"title": "(°C )", "values": [-2,-1.5,-1,-0.5,0,0.5,1,1.5,2], "labelExpr": "datum.value % 1 == 0 && datum.value > -2 ? toString(datum.value) : ''"}}}},
  {"data": {"name": "R3g"}, "mark": {"type": "line", "color": "#a6a6a6"}, "encoding": {"x": {"field": "year", "type": "quantitative"}, "y": {"field": "anomaly", "type": "quantitative"}}},
  {"data": {"values": [{"label": "40-60N July"}]}, "mark": {"type": "text", "fontSize": 18, "color": "#1a1a1a"}, "encoding": {"x": {"datum": 1950.9, "type": "quantitative"}, "y": {"datum": -1.54, "type": "quantitative"}, "text": {"field": "label"}}}
]},
{"width": 297, "height": 171, "layer": [
  {"data": {"name": "L4k"}, "mark": {"type": "line", "color": "#1a1a1a"}, "encoding": {
    "x": {"field": "year", "type": "quantitative", "scale": {"domain": [1900, 2000], "nice": false, "zero": false}, "axis": {"values": [1900,1910,1920,1930,1940,1950,1960,1970,1980,1990,2000], "labels": false, "title": null}},
    "y": {"field": "anomaly", "type": "quantitative", "scale": {"domain": [-2, 2], "nice": false}, "axis": {"title": "(°C )", "values": [-2,-1.5,-1,-0.5,0,0.5,1,1.5,2], "labelExpr": "datum.value % 1 == 0 && datum.value > -2 ? toString(datum.value) : ''"}}}},
  {"data": {"name": "L4g"}, "mark": {"type": "line", "color": "#a6a6a6"}, "encoding": {"x": {"field": "year", "type": "quantitative"}, "y": {"field": "anomaly", "type": "quantitative"}}},
  {"data": {"values": [{"label": "60-90N October"}]}, "mark": {"type": "text", "fontSize": 18, "color": "#1a1a1a"}, "encoding": {"x": {"datum": 1949.1, "type": "quantitative"}, "y": {"datum": -1.56, "type": "quantitative"}, "text": {"field": "label"}}}
]},
{"width": 297, "height": 171, "layer": [
  {"data": {"name": "R4k"}, "mark": {"type": "line", "color": "#1a1a1a"}, "encoding": {
    "x": {"field": "year", "type": "quantitative", "scale": {"domain": [1900, 2000], "nice": false, "zero": false}, "axis": {"values": [1900,1910,1920,1930,1940,1950,1960,1970,1980,1990,2000], "labels": false, "title": null}},
    "y": {"field": "anomaly", "type": "quantitative", "scale": {"domain": [-2, 2], "nice": false}, "axis": {"title": "(°C )", "values": [-2,-1.5,-1,-0.5,0,0.5,1,1.5,2], "labelExpr": "datum.value % 1 == 0 && datum.value > -2 ? toString(datum.value) : ''"}}}},
  {"data": {"name": "R4g"}, "mark": {"type": "line", "color": "#a6a6a6"}, "encoding": {"x": {"field": "year", "type": "quantitative"}, "y": {"field": "anomaly", "type": "quantitative"}}},
  {"data": {"values": [{"label": "40-60N October"}]}, "mark": {"type": "text", "fontSize": 18, "color": "#1a1a1a"}, "encoding": {"x": {"datum": 1952, "type": "quantitative"}, "y": {"datum": -1.53, "type": "quantitative"}, "text": {"field": "label"}}}
]},
{"width": 297, "height": 171, "layer": [
  {"data": {"name": "L5k"}, "mark": {"type": "line", "color": "#1a1a1a"}, "encoding": {
    "x": {"field": "year", "type": "quantitative", "scale": {"domain": [1900, 2000], "nice": false, "zero": false}, "axis": {"values": [1900,1910,1920,1930,1940,1950,1960,1970,1980,1990,2000], "labelExpr": "datum.value % 20 == 0 ? toString(datum.value) : ''", "title": "Year", "titleX": 174}},
    "y": {"field": "anomaly", "type": "quantitative", "scale": {"domain": [-2, 2], "nice": false}, "axis": {"title": "(°C )", "values": [-2,-1.5,-1,-0.5,0,0.5,1,1.5,2], "labelExpr": "datum.value % 1 == 0 ? toString(datum.value) : ''"}}}},
  {"data": {"name": "L5g"}, "mark": {"type": "line", "color": "#a6a6a6"}, "encoding": {"x": {"field": "year", "type": "quantitative"}, "y": {"field": "anomaly", "type": "quantitative"}}},
  {"data": {"values": [{"label": "60-90N Annual"}]}, "mark": {"type": "text", "fontSize": 18, "color": "#1a1a1a"}, "encoding": {"x": {"datum": 1948.5, "type": "quantitative"}, "y": {"datum": -1.55, "type": "quantitative"}, "text": {"field": "label"}}}
]},
{"width": 297, "height": 171, "layer": [
  {"data": {"name": "R5k"}, "mark": {"type": "line", "color": "#1a1a1a"}, "encoding": {
    "x": {"field": "year", "type": "quantitative", "scale": {"domain": [1900, 2000], "nice": false, "zero": false}, "axis": {"values": [1900,1910,1920,1930,1940,1950,1960,1970,1980,1990,2000], "labelExpr": "datum.value % 20 == 0 ? toString(datum.value) : ''", "title": "Year", "titleX": 137}},
    "y": {"field": "anomaly", "type": "quantitative", "scale": {"domain": [-2, 2], "nice": false}, "axis": {"title": "(°C )", "values": [-2,-1.5,-1,-0.5,0,0.5,1,1.5,2], "labelExpr": "datum.value % 1 == 0 ? toString(datum.value) : ''"}}}},
  {"data": {"name": "R5g"}, "mark": {"type": "line", "color": "#a6a6a6"}, "encoding": {"x": {"field": "year", "type": "quantitative"}, "y": {"field": "anomaly", "type": "quantitative"}}},
  {"data": {"values": [{"label": "40-60N Annual"}]}, "mark": {"type": "text", "fontSize": 18, "color": "#1a1a1a"}, "encoding": {"x": {"datum": 1950.1, "type": "quantitative"}, "y": {"datum": -1.59, "type": "quantitative"}, "text": {"field": "label"}}}
]}
]
}
